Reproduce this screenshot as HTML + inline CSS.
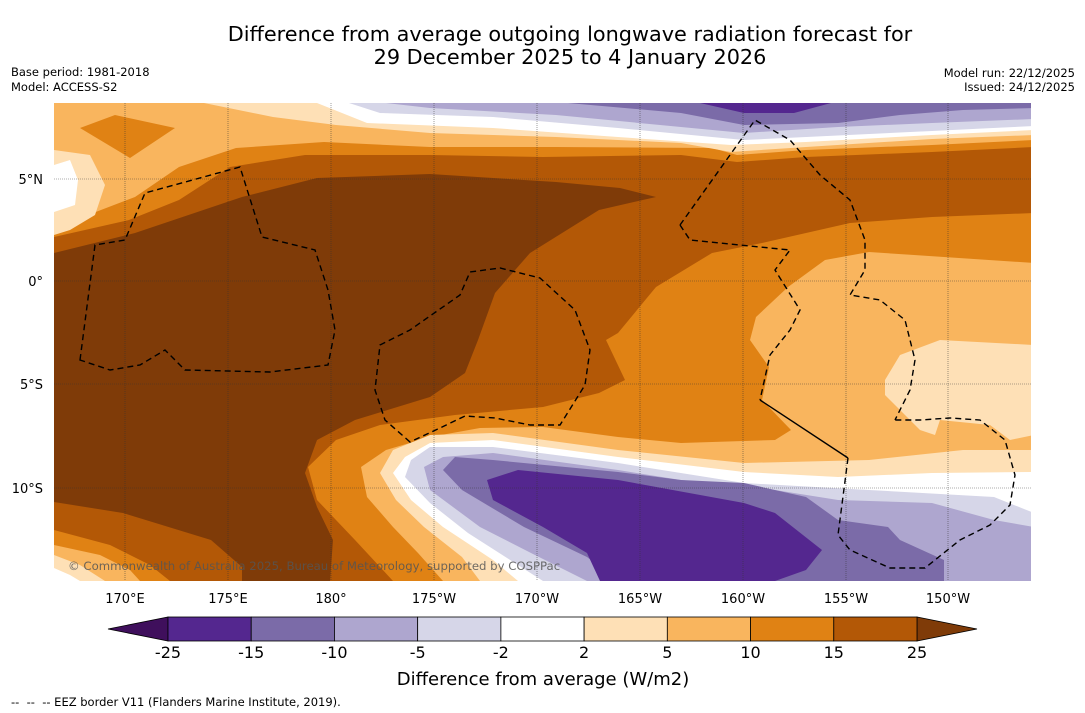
<!DOCTYPE html>
<html><head><meta charset="utf-8"><style>
body{margin:0;background:#fff;font-family:"DejaVu Sans",sans-serif;}
#wrap{position:relative;width:1085px;height:713px;overflow:hidden;background:#fff}
</style></head><body>
<div id="wrap">
<svg id="svg" width="1085" height="713" xmlns="http://www.w3.org/2000/svg" font-family="DejaVu Sans, sans-serif">
<text x="570" y="41" font-size="20.8" text-anchor="middle" fill="#000">Difference from average outgoing longwave radiation forecast for</text>
<text x="570" y="64" font-size="20.8" text-anchor="middle" fill="#000">29 December 2025 to 4 January 2026</text>
<text x="11" y="76" font-size="11.5">Base period: 1981-2018</text>
<text x="11" y="91" font-size="11.5">Model: ACCESS-S2</text>
<text x="1075" y="77" font-size="11.5" text-anchor="end">Model run: 22/12/2025</text>
<text x="1075" y="91" font-size="11.5" text-anchor="end">Issued: 24/12/2025</text>
<defs><clipPath id="mc"><rect x="54" y="103" width="977" height="478"/></clipPath></defs>
<g clip-path="url(#mc)">
<rect x="54" y="103" width="977" height="478" fill="#f9b55e"/>
<path fill="#e08214" d="M54,228 L135,197 L179,167 L236,148 L324,142 L430,147 L556,147 L712,148 L737,155 L806,150 L932,145 L1034,140 L1034,263 L944,257 L869,252 L825,260 L788,287 L756,317 L750,340 L769,367 L762,400 L791,430 L775,440 L681,443 L618,437 L543,427 L480,428 L430,437 L386,450 L361,467 L367,497 L393,527 L418,553 L443,581 L54,581Z"/>
<path fill="#b35806" d="M54,237 L129,220 L179,200 L230,167 L305,155 L430,155 L543,157 L681,155 L737,162 L806,157 L932,152 L1034,147 L1034,213 L932,217 L850,223 L762,243 L712,253 L656,287 L618,333 L606,340 L625,380 L599,393 L543,407 L455,415 L380,425 L336,440 L308,467 L317,500 L355,540 L393,581 L54,581Z"/>
<path fill="#7f3b08" d="M54,253 L135,233 L242,197 L317,178 L430,174 L556,182 L620,188 L656,197 L599,210 L530,253 L495,293 L478,340 L465,373 L430,397 L355,420 L317,440 L305,473 L317,507 L333,540 L330,581 L242,581 L242,567 L211,540 L123,513 L54,502Z"/>
<path fill="#e08214" d="M54,530 L110,545 L150,565 L170,581 L54,581Z"/>
<path fill="#f9b55e" d="M54,545 L100,555 L130,570 L140,581 L54,581Z"/>
<path fill="#fee0b6" d="M54,555 L80,565 L105,581 L54,581Z"/>
<path fill="#fff" d="M54,568 L70,575 L80,581 L54,581Z"/>
<path fill="#e08214" d="M80,128 L115,115 L175,128 L130,158Z"/>
<path fill="#fee0b6" d="M54,150 L90,155 L105,185 L95,215 L70,230 L54,235Z"/>
<path fill="#fff" d="M54,165 L70,160 L78,180 L75,205 L54,212Z"/>
<path fill="#fee0b6" d="M204,103 L1034,103 L1034,135 L932,139 L806,147 L731,152 L681,143 L556,137 L430,133 L336,125 L273,117Z"/>
<path fill="#fff" d="M317,103 L1034,103 L1034,130 L932,135 L806,142 L731,145 L618,137 L493,128 L367,123Z"/>
<path fill="#d6d6e8" d="M349,103 L1034,103 L1034,126 L932,131 L806,137 L744,140 L712,137 L618,128 L493,117 L380,113Z"/>
<path fill="#aea6cf" d="M386,103 L1034,103 L1034,119 L932,123 L838,127 L744,133 L681,127 L556,115 L430,108Z"/>
<path fill="#7b6ba8" d="M568,103 L1034,103 L1034,108 L963,110 L900,115 L838,123 L744,125 L681,113Z"/>
<path fill="#54278f" d="M700,103 L831,103 L794,113 L744,113Z"/>
<path fill="#fee0b6" d="M885,380 L900,355 L940,340 L1034,345 L1034,435 L1010,440 L990,425 L940,420 L935,435 L920,430 L900,410 L885,395Z"/>
<path fill="#fee0b6" d="M1034,450 L963,450 L869,460 L744,463 L618,450 L493,433 L430,435 L393,450 L380,473 L396,500 L424,527 L462,557 L480,581 L1034,581Z"/>
<path fill="#fff" d="M1034,472 L932,473 L838,477 L744,472 L618,457 L493,440 L430,443 L405,457 L393,473 L411,500 L443,527 L493,560 L518,581 L1034,581Z"/>
<path fill="#d6d6e8" d="M1034,513 L994,497 L869,490 L744,483 L618,463 L493,447 L430,447 L411,460 L405,477 L430,503 L468,533 L543,581 L1034,581Z"/>
<path fill="#aea6cf" d="M1034,527 L994,520 L932,503 L838,500 L775,490 L681,480 L618,470 L493,453 L443,457 L424,467 L430,490 L480,527 L531,553 L587,581 L1034,581Z"/>
<path fill="#7b6ba8" d="M944,581 L944,560 L900,540 L888,527 L838,520 L806,497 L744,483 L681,480 L618,472 L493,460 L455,457 L443,470 L462,490 L524,527 L587,557 L618,581Z"/>
<path fill="#54278f" d="M487,480 L518,470 L618,480 L744,503 L775,513 L822,550 L806,570 L775,581 L600,581 L587,553 L543,527 L493,500Z"/>
<g stroke="#333" stroke-width="0.6" stroke-dasharray="1,1" opacity="0.8">
<line x1="125" y1="103" x2="125" y2="581"/><line x1="228" y1="103" x2="228" y2="581"/><line x1="331" y1="103" x2="331" y2="581"/><line x1="434" y1="103" x2="434" y2="581"/><line x1="537" y1="103" x2="537" y2="581"/><line x1="640" y1="103" x2="640" y2="581"/><line x1="743" y1="103" x2="743" y2="581"/><line x1="846" y1="103" x2="846" y2="581"/><line x1="948" y1="103" x2="948" y2="581"/>
<line x1="54" y1="179" x2="1031" y2="179"/><line x1="54" y1="281" x2="1031" y2="281"/><line x1="54" y1="384" x2="1031" y2="384"/><line x1="54" y1="488" x2="1031" y2="488"/>
</g>
<g fill="none" stroke="#000" stroke-width="1.4" stroke-dasharray="6,4">
<path d="M80,360 L95,245 L125,240 L145,193 L240,167 L262,237 L315,250 L328,290 L335,330 L328,365 L270,372 L185,370 L165,350 L140,365 L110,370 Z"/>
<path d="M410,442 L385,420 L375,390 L380,345 L410,330 L460,295 L470,272 L500,268 L540,278 L575,310 L590,350 L585,385 L560,425 L530,425 L495,418 L465,416 L440,428 Z"/>
<path d="M680,225 L755,120 L790,140 L820,175 L850,200 L865,240 L865,270 L850,295 L880,300 L905,320 L915,360 L910,390 L895,420"/>
<path d="M680,225 L690,240 L740,245 L790,250 L775,270 L800,310 L790,330 L770,355 L760,400"/>
<path d="M848,458 L838,535 L850,550 L890,568 L925,568 L960,540 L990,525 L1010,505 L1015,475 L1005,440 L980,420 L950,418 L920,420 L895,420"/>
</g>
<path d="M760,400 L848,458" stroke="#000" stroke-width="1.4" fill="none"/>
<text x="68" y="570" font-size="11.7" fill="#555" opacity="0.85">© Commonwealth of Australia 2025, Bureau of Meteorology, supported by COSPPac</text>
</g>
<g font-size="13" text-anchor="end">
<text x="43" y="184">5°N</text><text x="43" y="286">0°</text><text x="43" y="389">5°S</text><text x="43" y="493">10°S</text>
</g>
<g font-size="13" text-anchor="middle">
<text x="125" y="603">170°E</text><text x="228" y="603">175°E</text><text x="331" y="603">180°</text><text x="434" y="603">175°W</text><text x="537" y="603">170°W</text><text x="640" y="603">165°W</text><text x="743" y="603">160°W</text><text x="846" y="603">155°W</text><text x="948" y="603">150°W</text>
</g>
<g id="cbar"></g>
<text x="543" y="685" font-size="18" text-anchor="middle">Difference from average (W/m2)</text>
<text x="11" y="706" font-size="11.5">-- &#160;-- &#160;-- EEZ border V11 (Flanders Marine Institute, 2019).</text>
</svg>
</div>
<script>
const levels = [-25, -15, -10, -5, -2, 2, 5, 10, 15, 25];
const binColors = ["#54278f","#7b6ba8","#aea6cf","#d6d6e8","#ffffff","#fee0b6","#f9b55e","#e08214","#b35806"];
const underColor = "#3f0f5c";
const overColor = "#7f3b08";
const NS = "http://www.w3.org/2000/svg";
const g = document.getElementById('cbar');
const x0 = 168, x1 = 917, y0 = 617, h = 24;
const step = (x1 - x0) / (levels.length - 1);
function xOf(i){ return x0 + i * step; }
function mk(tag, attrs){ const e = document.createElementNS(NS, tag); for (const k in attrs) e.setAttribute(k, attrs[k]); g.appendChild(e); return e; }
const lt = mk('polygon', {points: `${x0},${y0} ${x0},${y0+h} 108,${y0+h/2}`, fill: underColor, stroke: '#000', 'stroke-width': 0.8});


const rt = mk('polygon', {points: `${x1},${y0} ${x1},${y0+h} 977,${y0+h/2}`, fill: overColor, stroke: '#000', 'stroke-width': 0.8});


binColors.forEach((c, i) => {
  const r = mk('rect', {x: xOf(i), y: y0, width: step, height: h, fill: c, stroke: '#000', 'stroke-width': 0.8});
  
  
});
levels.forEach((v, i) => {
  const t = mk('text', {x: xOf(i), y: 658, 'font-size': 16, 'text-anchor': 'middle'});
  t.textContent = String(v);
  
  
});
</script>
</body></html>
